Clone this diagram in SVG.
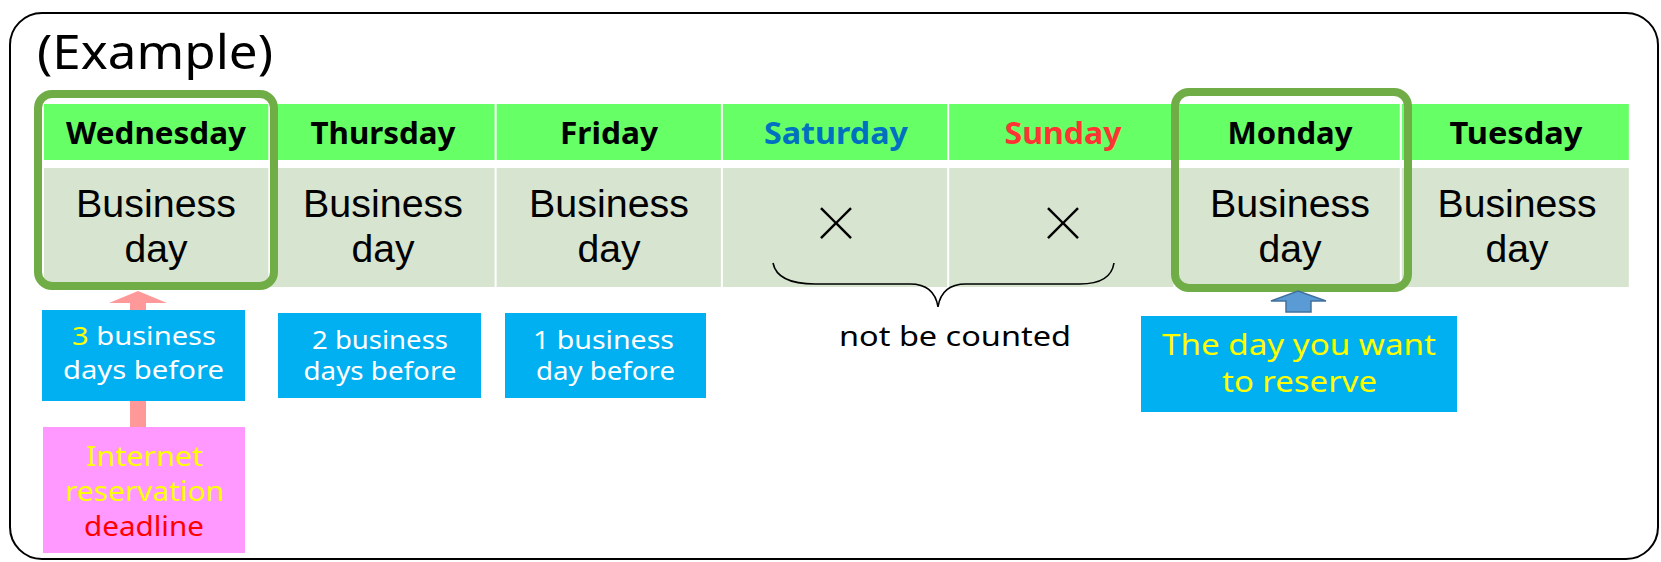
<svg xmlns="http://www.w3.org/2000/svg" width="1661" height="562" viewBox="0 0 1661 562">
<style>
text{font-family:"Noto Sans","Open Sans","Liberation Sans",sans-serif;text-anchor:middle}
.hd{fill:#66FF66}
.bd{fill:#D7E4CF}
.ht{font-size:30px;font-weight:bold;fill:#000}
.bt{font-family:"Liberation Sans","Arial",sans-serif;font-size:38px;fill:#000}
.x{font-family:"Noto Sans CJK JP","Noto Sans",sans-serif;font-size:50px;font-weight:300;fill:#000}
.hl{fill:none;stroke:#70AD47;stroke-width:8}
.bb{fill:#00B0F0}
.st{font-size:25px;fill:#FFFFFF}
.pt{font-size:28px}
</style>
<g id="frame">
<rect x="10" y="13" width="1648" height="546" rx="32" ry="32" fill="#FFFFFF" stroke="#000" stroke-width="2"/>
<text x="155" y="69" style="font-size:47px;fill:#000" textLength="236" lengthAdjust="spacingAndGlyphs">(Example)</text>
</g>
<g id="wednesday">
<rect class="hd" x="44" y="104" width="224.3" height="56"/>
<rect class="bd" x="44" y="168" width="224.3" height="119"/>
<text class="ht" x="156" y="144" textLength="180" lengthAdjust="spacingAndGlyphs">Wednesday</text>
<text class="bt" x="156" y="217" textLength="160" lengthAdjust="spacingAndGlyphs">Business</text>
<text class="bt" x="156" y="262" textLength="63" lengthAdjust="spacingAndGlyphs">day</text>
</g>
<g id="thursday">
<rect class="hd" x="270.3" y="104" width="224.3" height="56"/>
<rect class="bd" x="270.3" y="168" width="224.3" height="119"/>
<text class="ht" x="383" y="144" textLength="145" lengthAdjust="spacingAndGlyphs">Thursday</text>
<text class="bt" x="383" y="217" textLength="160" lengthAdjust="spacingAndGlyphs">Business</text>
<text class="bt" x="383" y="262" textLength="63" lengthAdjust="spacingAndGlyphs">day</text>
</g>
<g id="friday">
<rect class="hd" x="496.6" y="104" width="224.3" height="56"/>
<rect class="bd" x="496.6" y="168" width="224.3" height="119"/>
<text class="ht" x="609" y="144" textLength="98" lengthAdjust="spacingAndGlyphs">Friday</text>
<text class="bt" x="609" y="217" textLength="160" lengthAdjust="spacingAndGlyphs">Business</text>
<text class="bt" x="609" y="262" textLength="63" lengthAdjust="spacingAndGlyphs">day</text>
</g>
<g id="saturday">
<rect class="hd" x="722.9" y="104" width="224.3" height="56"/>
<rect class="bd" x="722.9" y="168" width="224.3" height="119"/>
<text class="ht" x="836" y="144" style="fill:#0070C0" textLength="144" lengthAdjust="spacingAndGlyphs">Saturday</text>
<text class="x" x="836" y="242">×</text>
</g>
<g id="sunday">
<rect class="hd" x="949.2" y="104" width="224.3" height="56"/>
<rect class="bd" x="949.2" y="168" width="224.3" height="119"/>
<text class="ht" x="1063" y="144" style="fill:#FF3333" textLength="117" lengthAdjust="spacingAndGlyphs">Sunday</text>
<text class="x" x="1063" y="242">×</text>
</g>
<g id="monday">
<rect class="hd" x="1175.5" y="104" width="224.3" height="56"/>
<rect class="bd" x="1175.5" y="168" width="224.3" height="119"/>
<text class="ht" x="1290" y="144" textLength="125" lengthAdjust="spacingAndGlyphs">Monday</text>
<text class="bt" x="1290" y="217" textLength="160" lengthAdjust="spacingAndGlyphs">Business</text>
<text class="bt" x="1290" y="262" textLength="63" lengthAdjust="spacingAndGlyphs">day</text>
</g>
<g id="tuesday">
<rect class="hd" x="1401.8" y="104" width="227" height="56"/>
<rect class="bd" x="1401.8" y="168" width="227" height="119"/>
<text class="ht" x="1516" y="144" textLength="133" lengthAdjust="spacingAndGlyphs">Tuesday</text>
<text class="bt" x="1517" y="217" textLength="159" lengthAdjust="spacingAndGlyphs">Business</text>
<text class="bt" x="1517" y="262" textLength="63" lengthAdjust="spacingAndGlyphs">day</text>
</g>
<g id="highlight-wednesday">
<rect class="hl" x="38" y="94" width="236" height="192" rx="14" ry="14"/>
</g>
<g id="highlight-monday">
<rect class="hl" x="1175" y="92" width="233" height="196" rx="14" ry="14"/>
</g>
<g id="brace">
<path d="M773,263 C776,278 792,284 815,284 L910,284 C928,284 936,294 938,307 C940,294 948,284 966,284 L1080,284 C1102,284 1112,276 1114,263" fill="none" stroke="#000" stroke-width="1.6"/>
<text x="955" y="346" style="font-size:28px;fill:#000" textLength="232" lengthAdjust="spacingAndGlyphs">not be counted</text>
</g>
<g id="connectors">
<polygon points="138,291 167,303 146,303 146,427 130,427 130,303 109,303" fill="#FF9999"/>
<polygon points="1298,291 1326,301 1311,301 1311,312 1286,312 1286,301 1271,301" fill="#5B9BD5" stroke="#41719C" stroke-width="1.5"/>
</g>
<g id="box-3days">
<rect class="bb" x="42" y="310" width="203" height="91"/>
<text class="st" x="144" y="345" textLength="144" lengthAdjust="spacingAndGlyphs"><tspan fill="#FFFF00">3</tspan> business</text>
<text class="st" x="143.5" y="379" textLength="161" lengthAdjust="spacingAndGlyphs">days before</text>
</g>
<g id="box-2days">
<rect class="bb" x="278" y="313" width="203" height="85"/>
<text class="st" x="380" y="349" textLength="136" lengthAdjust="spacingAndGlyphs">2 business</text>
<text class="st" x="380" y="380" textLength="153" lengthAdjust="spacingAndGlyphs">days before</text>
</g>
<g id="box-1day">
<rect class="bb" x="505" y="313" width="201" height="85"/>
<text class="st" x="603.5" y="349" textLength="141" lengthAdjust="spacingAndGlyphs">1 business</text>
<text class="st" x="605.5" y="380" textLength="139" lengthAdjust="spacingAndGlyphs">day before</text>
</g>
<g id="box-deadline">
<rect x="43" y="427" width="202" height="126" fill="#FF99FF"/>
<text class="pt" x="144.5" y="466" fill="#FFFF00" textLength="117" lengthAdjust="spacingAndGlyphs">Internet</text>
<text class="pt" x="144.5" y="501" fill="#FFFF00" textLength="159" lengthAdjust="spacingAndGlyphs">reservation</text>
<text class="pt" x="144" y="536" fill="#FF0000" textLength="120" lengthAdjust="spacingAndGlyphs">deadline</text>
</g>
<g id="box-reserve">
<rect class="bb" x="1141" y="316" width="316" height="96"/>
<text x="1299" y="355" style="font-size:29px;fill:#FFFF00" textLength="274" lengthAdjust="spacingAndGlyphs">The day you want</text>
<text x="1299.5" y="392" style="font-size:29px;fill:#FFFF00" textLength="155" lengthAdjust="spacingAndGlyphs">to reserve</text>
</g>
</svg>
